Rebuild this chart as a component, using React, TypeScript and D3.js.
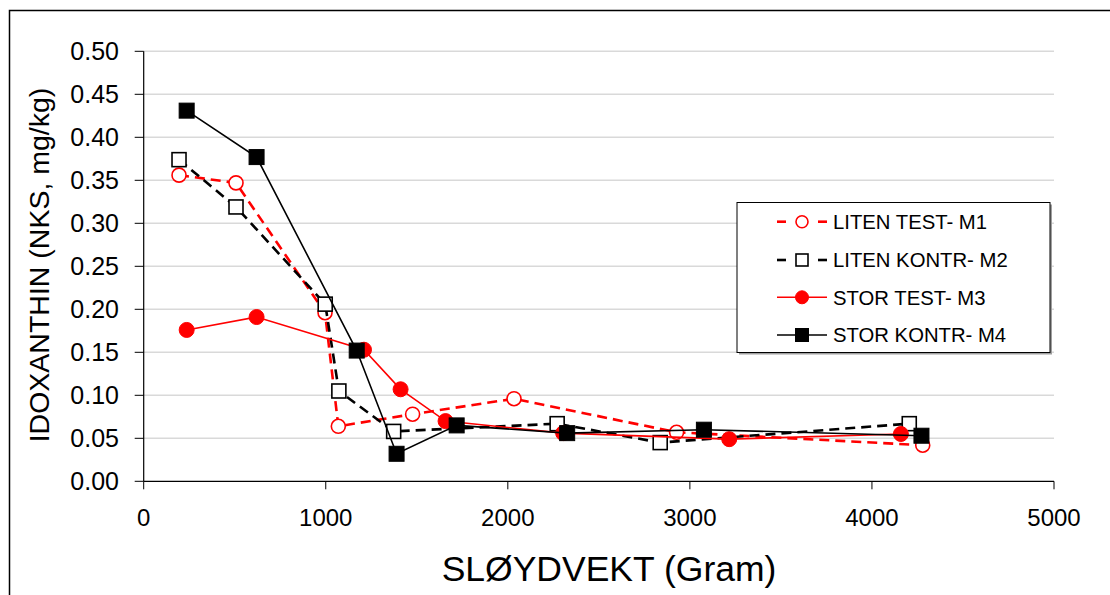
import React from "react";
import * as d3 from "d3";

const m1X = [194, 507, 996, 1069, 1477, 2034, 2927, 4279];
const m1Y = [0.356, 0.347, 0.196, 0.064, 0.078, 0.096, 0.057, 0.042];
const m2X = [194, 507, 997, 1072, 1373, 2271, 2837, 4205];
const m2Y = [0.374, 0.319, 0.206, 0.105, 0.058, 0.067, 0.045, 0.067];
const m3X = [236, 620, 1210, 1411, 1658, 2304, 3216, 4159];
const m3Y = [0.176, 0.191, 0.153, 0.107, 0.070, 0.056, 0.049, 0.055];
const m4X = [236, 620, 1170, 1389, 1719, 2326, 3077, 4272];
const m4Y = [0.431, 0.377, 0.152, 0.032, 0.065, 0.056, 0.060, 0.053];

const xTicks = [0, 1000, 2000, 3000, 4000, 5000];
const yTicks = [0, 0.05, 0.1, 0.15, 0.2, 0.25, 0.3, 0.35, 0.4, 0.45, 0.5];

const seriesNames = ["LITEN TEST- M1", "LITEN KONTR- M2", "STOR TEST- M3", "STOR KONTR- M4"];

type Series = {
  name: string;
  xs: number[];
  ys: number[];
  color: string;
  dashed: boolean;
  marker: "circle" | "square";
  filled: boolean;
};

const series: Series[] = [
  { name: seriesNames[0], xs: m1X, ys: m1Y, color: "#ff0000", dashed: true, marker: "circle", filled: false },
  { name: seriesNames[1], xs: m2X, ys: m2Y, color: "#000000", dashed: true, marker: "square", filled: false },
  { name: seriesNames[2], xs: m3X, ys: m3Y, color: "#ff0000", dashed: false, marker: "circle", filled: true },
  { name: seriesNames[3], xs: m4X, ys: m4Y, color: "#000000", dashed: false, marker: "square", filled: true },
];

const FONT = "'Liberation Sans', Arial, sans-serif";

function Marker({ s, cx, cy, size }: { s: Series; cx: number; cy: number; size: number }) {
  const fill = s.filled ? s.color : "#ffffff";
  if (s.marker === "circle") {
    return <circle cx={cx} cy={cy} r={s.filled ? size / 2 : size / 2 - 0.5} fill={fill} stroke={s.color} strokeWidth={s.filled ? 1 : 1.6} />;
  }
  const h = s.filled ? size / 2 : size / 2 - 0.5;
  return <rect x={cx - h} y={cy - h} width={2 * h} height={2 * h} fill={fill} stroke={s.color} strokeWidth={s.filled ? 1 : 1.6} />;
}

export default function App() {
  const W = 1110;
  const H = 595;
  const x = d3.scaleLinear().domain([0, 5000]).range([143.7, 1054]);
  const y = d3.scaleLinear().domain([0, 0.5]).range([481.3, 51.3]);

  const line = (s: Series) =>
    d3
      .line<number>()
      .x((_, i) => x(s.xs[i]))
      .y((_, i) => y(s.ys[i]))(s.ys) || "";

  const legX0 = 777;
  const legX1 = 827;
  const legRows = [221.7, 260, 297.3, 335];

  return (
    <svg width={W} height={H} style={{ position: "absolute", left: 0, top: 0, background: "#fff" }} fontFamily={FONT}>
      <rect x={9.5} y={10.5} width={1120} height={620} fill="#fff" stroke="#000" strokeWidth={1.5} />

      {/* gridlines */}
      {yTicks.slice(1).map((t) => (
        <line key={"g" + t} x1={x(0)} x2={x(5000)} y1={y(t)} y2={y(t)} stroke="#d9d9d9" strokeWidth={1.5} />
      ))}

      {/* y axis */}
      <line x1={x(0)} x2={x(0)} y1={y(0.5)} y2={y(0)} stroke="#000" strokeWidth={1.2} />
      {yTicks.map((t) => (
        <g key={"yt" + t}>
          <line x1={x(0) - 9} x2={x(0)} y1={y(t)} y2={y(t)} stroke="#000" strokeWidth={1} />
          <text x={119} y={y(t)} dy="0.36em" textAnchor="end" fontSize={25} fill="#000">
            {d3.format(".2f")(t)}
          </text>
        </g>
      ))}

      {/* x axis */}
      <line x1={x(0)} x2={x(5000)} y1={y(0)} y2={y(0)} stroke="#000" strokeWidth={1.2} />
      {xTicks.map((t) => (
        <g key={"xt" + t}>
          <line x1={x(t)} x2={x(t)} y1={y(0)} y2={y(0) + 8} stroke="#000" strokeWidth={1} />
          <text x={x(t)} y={526} textAnchor="middle" fontSize={24} fill="#000">
            {t}
          </text>
        </g>
      ))}

      <text x={609} y={581} textAnchor="middle" fontSize={35.5} fill="#000">
        SLØYDVEKT (Gram)
      </text>
      <text transform="translate(49,265) rotate(-90)" textAnchor="middle" fontSize={28.5} fill="#000">
        IDOXANTHIN (NKS, mg/kg)
      </text>

      {/* series */}
      {series.map((s) => (
        <g key={s.name}>
          <path
            d={line(s)}
            fill="none"
            stroke={s.color}
            strokeWidth={s.dashed ? 2.6 : 1.6}
            strokeDasharray={s.dashed ? "10 6" : undefined}
          />
          {s.xs.map((v, i) => (
            <Marker key={i} s={s} cx={x(v)} cy={y(s.ys[i])} size={15} />
          ))}
        </g>
      ))}

      {/* legend */}
      <rect x={739} y={204.5} width={313} height={150} fill="#a0a0a0" />
      <rect x={737} y={202.5} width={313} height={150} fill="#fff" stroke="#000" strokeWidth={1} />
      {series.map((s, i) => {
        const cy = legRows[i];
        const cx = (legX0 + legX1) / 2;
        return (
          <g key={"leg" + s.name}>
            {s.dashed ? (
              <>
                <line x1={legX0} x2={legX0 + 9} y1={cy} y2={cy} stroke={s.color} strokeWidth={2.6} />
                <line x1={legX1 - 9} x2={legX1} y1={cy} y2={cy} stroke={s.color} strokeWidth={2.6} />
              </>
            ) : (
              <line x1={legX0} x2={legX1} y1={cy} y2={cy} stroke={s.color} strokeWidth={1.6} />
            )}
            <Marker s={s} cx={cx} cy={cy} size={13} />
            <text x={833} y={cy} dy="0.36em" fontSize={20.3} fill="#000">
              {s.name}
            </text>
          </g>
        );
      })}
    </svg>
  );
}
